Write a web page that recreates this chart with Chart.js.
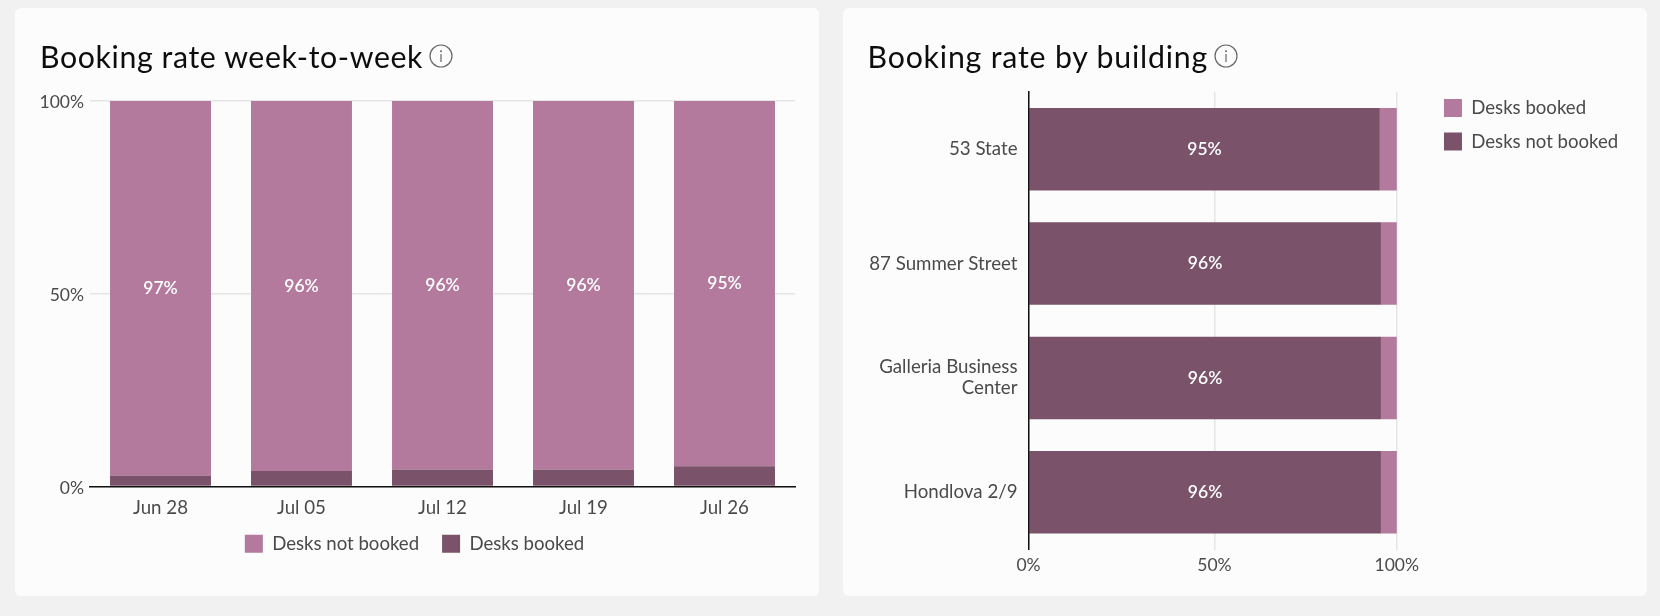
<!DOCTYPE html>
<html>
<head>
<meta charset="utf-8">
<script src="https://cdn.jsdelivr.net/npm/chart.js@4/dist/chart.umd.js"></script>
<style>
    html, body { margin: 0; padding: 0; background: #f1f1f1; }
    body { width: 1660px; height: 616px; overflow: hidden; position: relative; font-family: Lato, sans-serif; }
    .card { position: absolute; top: 8px; width: 804px; height: 588px; background: #fcfcfc; border-radius: 6px; }
    .card canvas { position: absolute; left: 0; top: 0; }
    .card h2 { position: absolute; left: 25px; top: 27.5px; margin: 0; font-size: 30.3px; line-height: 40px; font-weight: 400; color: #0d0d0d; letter-spacing: 0.8px; white-space: nowrap; z-index: 2; }
    .info { position: absolute; top: 36px; width: 24px; height: 24px; z-index: 2; }
</style>
</head>
<body>
<div class="card" style="left:15px">
    <h2 style="letter-spacing:0.6px">Booking rate week-to-week</h2>
    <svg class="info" style="left:414px" viewBox="0 0 24 24"><circle cx="12" cy="12" r="11" fill="none" stroke="#666" stroke-width="1.2"/><circle cx="12" cy="7.2" r="1" fill="#666"/><rect x="11.4" y="10" width="1.2" height="8" fill="#666"/></svg>
    <canvas id="week-chart" width="804" height="588"></canvas>
</div>
<div class="card" style="left:843px">
    <h2 style="left:24.5px">Booking rate by building</h2>
    <svg class="info" style="left:371px" viewBox="0 0 24 24"><circle cx="12" cy="12" r="11" fill="none" stroke="#666" stroke-width="1.2"/><circle cx="12" cy="7.2" r="1" fill="#666"/><rect x="11.4" y="10" width="1.2" height="8" fill="#666"/></svg>
    <canvas id="building-chart" width="804" height="588"></canvas>
</div>
<script>
const weeks = ['Jun 28', 'Jul 05', 'Jul 12', 'Jul 19', 'Jul 26'];
const weekBooked = [2.8, 4.0, 4.4, 4.4, 5.2];
const weekNotBooked = [97.2, 96.0, 95.6, 95.6, 94.8];

const buildings = ['53 State', '87 Summer Street', ['Galleria Business', 'Center'], 'Hondlova 2/9'];
const buildingNotBooked = [95.4, 95.7, 95.7, 95.7];
const buildingBooked = [4.6, 4.3, 4.3, 4.3];

// the middle gridline of the building chart sits slightly right of the true midpoint
const buildingTicks = [0, 50.5, 100];
const buildingTickLabels = ['0%', '50%', '100%'];
// room on the x axis between the 100% line and the legend
const BUILDING_X_MAX = 108.74;

const LIGHT = '#b37a9e';
const DARK = '#7a5269';
const TEXT = '#4a4a4a';
const GRID = '#e5e5e5';
const AXIS = '#111111';
const FONT = 'Lato, sans-serif';
const percentFont = { family: FONT, size: 17.5, lineHeight: 1.2 };
const categoryFont = { family: FONT, size: 18.7, lineHeight: 1.12 };

// draws the percent label in the middle of one dataset's bars
const barLabels = {
    id: 'barLabels',
    afterDatasetsDraw(chart, args, opts) {
        const ctx = chart.ctx;
        const meta = chart.getDatasetMeta(opts.datasetIndex);
        const values = chart.data.datasets[opts.datasetIndex].data;
        ctx.save();
        ctx.font = `600 17.5px ${FONT}`;
        ctx.fillStyle = '#ffffff';
        ctx.textAlign = 'center';
        ctx.textBaseline = 'middle';
        meta.data.forEach((bar, i) => {
            const pos = bar.getCenterPoint();
            ctx.fillText(Math.round(values[i]) + '%', pos.x, pos.y);
        });
        ctx.restore();
    }
};

// the week labels hang below the short x axis box, keep them out of its clip
const longTicks = {
    id: 'longTicks',
    afterLayout(chart) {
        chart.scales.x.bottom += 16;
    }
};

const legendLabels = {
    boxWidth: 18,
    boxHeight: 18,
    color: TEXT,
    font: { family: FONT, size: 18.6 }
};

new Chart(document.getElementById('week-chart'), {
    type: 'bar',
    plugins: [barLabels, longTicks],
    data: {
        labels: weeks,
        datasets: [
            { label: 'Desks booked', data: weekBooked, backgroundColor: DARK, categoryPercentage: 1, barPercentage: 0.716 },
            { label: 'Desks not booked', data: weekNotBooked, backgroundColor: LIGHT, categoryPercentage: 1, barPercentage: 0.716 }
        ]
    },
    options: {
        responsive: false,
        animation: false,
        layout: { padding: { left: 19, right: 24, top: 93, bottom: 33 } },
        plugins: {
            tooltip: { enabled: false },
            legend: { position: 'bottom', reverse: true, labels: { ...legendLabels, padding: 23 } },
            barLabels: { datasetIndex: 1 }
        },
        scales: {
            x: {
                stacked: true,
                grid: { display: false, drawTicks: false },
                border: { color: AXIS, width: 1.5, z: 1 },
                ticks: { color: TEXT, font: categoryFont, padding: 11, maxRotation: 0 },
                afterFit: scale => { scale.height = 25; }
            },
            y: {
                stacked: true,
                min: 0,
                max: 100,
                grid: { color: GRID, lineWidth: 1.5, drawTicks: false },
                border: { display: false },
                ticks: { color: TEXT, font: percentFont, padding: 6, labelOffset: 1.5, stepSize: 50, callback: v => v + '%' },
                afterFit: scale => { scale.width = 56; }
            }
        }
    }
});

new Chart(document.getElementById('building-chart'), {
    type: 'bar',
    plugins: [barLabels],
    data: {
        labels: buildings,
        datasets: [
            { label: 'Desks not booked', data: buildingNotBooked, backgroundColor: DARK, categoryPercentage: 1, barPercentage: 0.721 },
            { label: 'Desks booked', data: buildingBooked, backgroundColor: LIGHT, categoryPercentage: 1, barPercentage: 0.721 }
        ]
    },
    options: {
        indexAxis: 'y',
        responsive: false,
        animation: false,
        layout: { padding: { left: 0, right: 22.7, top: 75.6, bottom: 0 } },
        plugins: {
            tooltip: { enabled: false },
            legend: { position: 'right', align: 'start', reverse: true, labels: { ...legendLabels, padding: 15 } },
            barLabels: { datasetIndex: 0 }
        },
        scales: {
            x: {
                stacked: true,
                min: 0,
                max: BUILDING_X_MAX,
                grid: { color: GRID, lineWidth: 1.5, drawTicks: false },
                border: { display: false },
                ticks: { color: TEXT, font: percentFont, padding: 5, maxRotation: 0, callback: (v, i) => buildingTickLabels[i] },
                afterBuildTicks: scale => { scale.ticks = buildingTicks.map(value => ({ value })); },
                afterFit: scale => { scale.height = 46.5; }
            },
            y: {
                stacked: true,
                grid: { display: false, drawTicks: false },
                border: { color: AXIS, width: 1.5, z: 1 },
                ticks: { color: TEXT, font: categoryFont, padding: 11, autoSkip: false },
                afterFit: scale => { scale.width = 185.5; }
            },
            // empty scale that only holds the gap above the bars, so the legend starts higher
            topGap: {
                axis: 'x',
                position: 'top',
                grid: { display: false },
                border: { display: false },
                ticks: { display: false },
                afterFit: scale => { scale.height = 8.4; }
            }
        }
    }
});
</script>
</body>
</html>
